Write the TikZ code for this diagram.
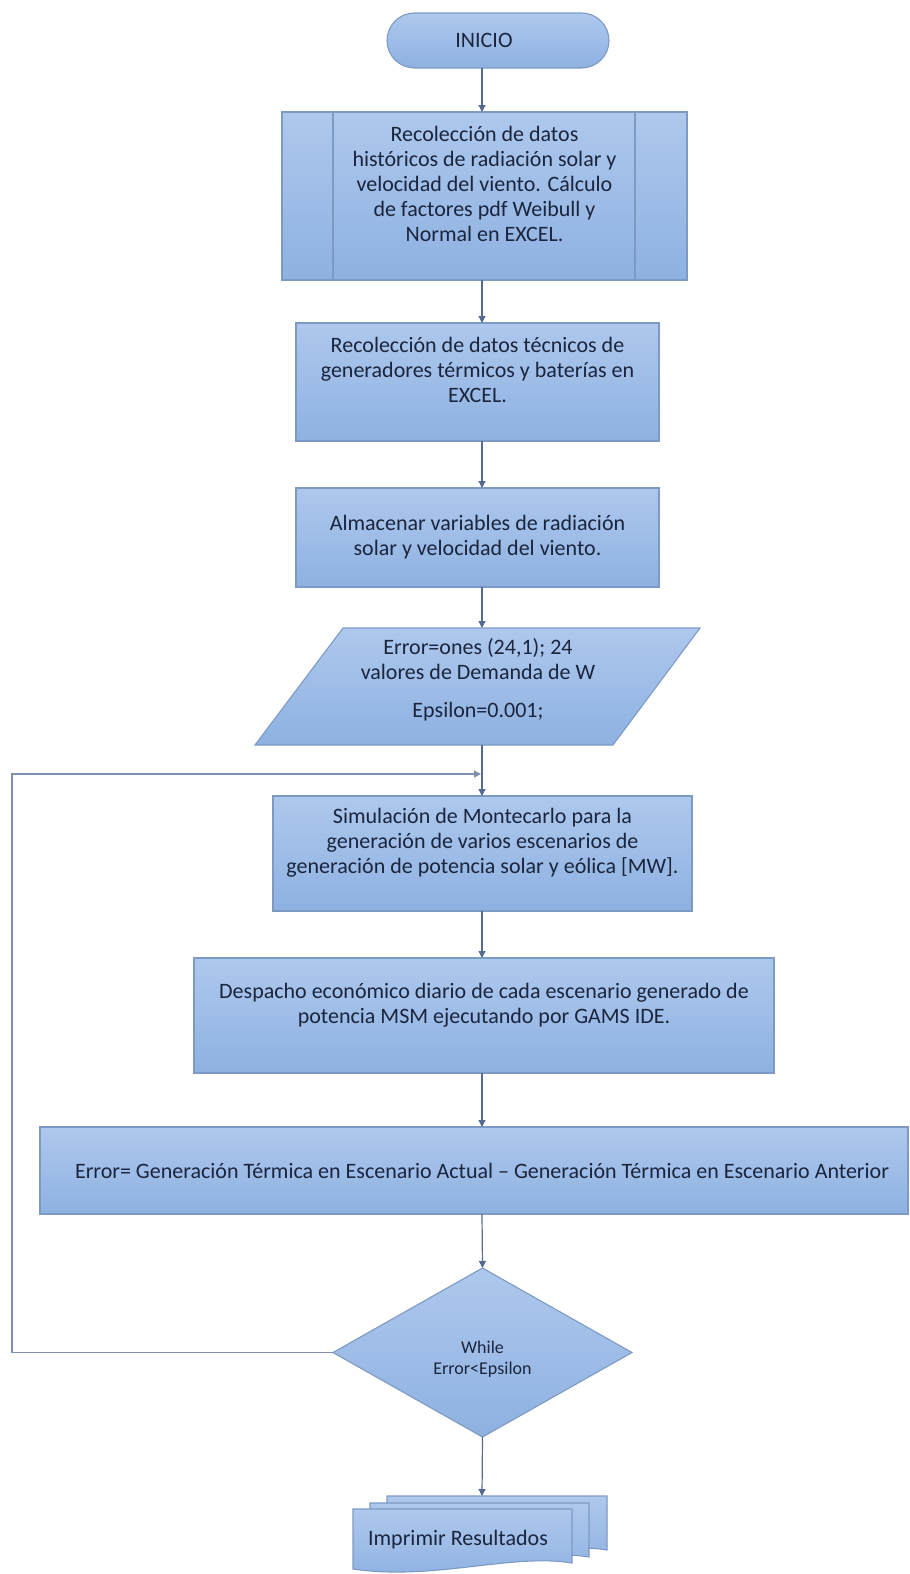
\documentclass[tikz,border=0pt]{standalone}
\usepackage{fontspec}
\setmainfont{Carlito}
\usetikzlibrary{arrows.meta,shapes.geometric,calc}
\definecolor{fillTop}{RGB}{174,200,237}
\definecolor{fillBot}{RGB}{142,177,225}
\definecolor{edgeC}{RGB}{125,154,196}
\definecolor{txtC}{RGB}{26,37,62}
\definecolor{connC}{RGB}{85,106,145}
\begin{document}
\begin{tikzpicture}[x=1pt,y=-1pt,
  shapefill/.style={draw=edgeC, line width=1.1pt, top color=fillTop, bottom color=fillBot},
  box/.style={shapefill, text=txtC, align=center, inner sep=0pt, outer sep=0pt,
    font=\fontsize{22}{25}\selectfont},
  txtnode/.style={text=txtC, align=center, inner sep=0pt, outer sep=0pt,
    font=\fontsize{22}{25}\selectfont},
  edgeline/.style={draw=edgeC, line width=1.1pt},
  arr/.style={draw=connC, line width=1.2pt, -{Triangle[width=7pt,length=7pt]}},
  loopline/.style={draw=connC!75!white, line width=1.4pt, -{Triangle[width=7pt,length=7pt]}}]
\useasboundingbox (0,0) rectangle (910,1574);
\coordinate (cx) at (482,0);

% INICIO
\node[box, rounded corners=27.5pt, minimum width=222pt, minimum height=55pt] (ini) at (498,40.5) {\hspace*{-28pt}INICIO};

% predefined process
\node[box, minimum width=405pt, minimum height=168pt] (b1) at (484.5,196)
  {Recolección de datos\\históricos de radiación solar y\\velocidad del viento. Cálculo\\de factores pdf Weibull y\\Normal en EXCEL.\\\mbox{}};
\draw[edgeline] ([xshift=51pt]b1.north west) -- ([xshift=51pt]b1.south west);
\draw[edgeline] ([xshift=-52pt]b1.north east) -- ([xshift=-52pt]b1.south east);

\node[box, minimum width=363pt, minimum height=118pt] (b2) at (477.5,382)
  {Recolección de datos técnicos de\\generadores térmicos y baterías en\\EXCEL.\\\mbox{}};

\node[box, minimum width=363pt, minimum height=99pt] (b3) at (477.5,537.5)
  {Almacenar variables de radiación\\solar y velocidad del viento.};

% parallelogram
\path[shapefill] (255,745) -- (613,745) -- (700,628) -- (343,628) -- cycle;
\node[txtnode, minimum width=360pt, minimum height=117pt] (p) at (478,686.5)
  {\rule{0pt}{24pt}Error=ones (24,1); 24\\valores de Demanda de W\\[13pt]Epsilon=0.001;\\\mbox{}};

\node[box, minimum width=419pt, minimum height=115pt] (sim) at (482.5,853.5)
  {Simulación de Montecarlo para la\\generación de varios escenarios de\\generación de potencia solar y eólica [MW].\\\mbox{}};

\node[box, minimum width=580pt, minimum height=115pt] (desp) at (484,1015.5)
  {Despacho económico diario de cada escenario generado de\\potencia MSM ejecutando por GAMS IDE.\\\mbox{}};

\node[box, minimum width=868pt, minimum height=87pt] (err) at (474,1170.5)
  {\hspace*{16pt}Error= Generación Térmica en Escenario Actual – Generación Térmica en Escenario Anterior};

\node[box, diamond, minimum width=299pt, minimum height=169pt, font=\fontsize{18}{21}\selectfont] (dec) at (482.5,1352.5)
  {\rule{0pt}{26pt}While\\Error<Epsilon};

% multi-document
\path[shapefill] (387,1496) -- (607,1496) -- (607,1550) .. controls (547,1540) and (467,1568) .. (387,1556) -- cycle;
\path[shapefill] (370,1503) -- (589,1503) -- (589,1557) .. controls (529,1547) and (450,1575) .. (370,1563) -- cycle;
\path[shapefill] (353,1509) -- (572,1509) -- (572,1563) .. controls (512,1553) and (433,1581) .. (353,1569) -- cycle;
\node[txtnode, minimum width=219pt, minimum height=54pt] (doc) at (458,1540) {Imprimir Resultados};
\coordinate (docTop) at (482,1496);
\coordinate (join) at (481,774);

% connectors
\draw[arr] (ini.south -| cx) -- (b1.north -| cx);
\draw[arr] (b1.south -| cx) -- (b2.north -| cx);
\draw[arr] (b2.south -| cx) -- (b3.north -| cx);
\draw[arr] (b3.south -| cx) -- (p.north -| cx);
\draw[arr] (p.south -| cx) -- (sim.north -| cx);
\draw[arr] (sim.south -| cx) -- (desp.north -| cx);
\draw[arr] (desp.south -| cx) -- (err.north -| cx);
\draw[arr] (err.south -| cx) -- (dec.north);
\draw[arr] (dec.south) -- (docTop);
\draw[loopline] (dec.west) -- (12,1352.5) -- (12,774) -- (join);
\end{tikzpicture}
\end{document}
